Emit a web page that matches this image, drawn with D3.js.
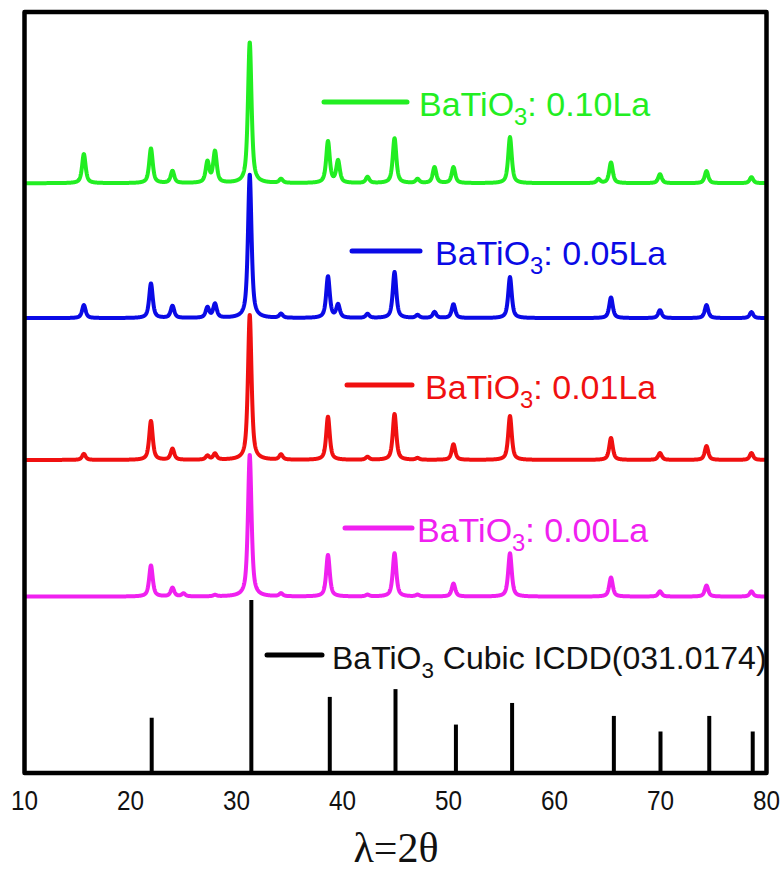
<!DOCTYPE html>
<html><head><meta charset="utf-8">
<script src="https://cdn.jsdelivr.net/npm/d3@7"></script>
<style>html,body{margin:0;padding:0;background:#fff;} svg{display:block;}</style>
</head><body>
<svg id="chart" width="782" height="873"></svg>
<script>
// ---------- data ----------
const xTicks = [10, 20, 30, 40, 50, 60, 70, 80];
const peakPositions = [15.6, 21.93, 23.96, 25.0, 27.26, 27.97, 31.25, 34.2, 38.63, 39.58, 42.36, 44.91, 47.08, 48.68, 50.47, 55.8, 64.15, 65.33, 69.95, 74.34, 78.58];
const heights000La = [0, 18, 5, 1.7, 0, 0.8, 82, 1.7, 24, 0, 1, 25, 1, 0, 7.5, 25, 0, 11, 3, 6.4, 3];
const heights001La = [3.5, 22.5, 6.4, 0, 2.3, 3.5, 84, 3, 25, 0, 1.7, 26.6, 1, 0, 9, 25.4, 0, 12.7, 4, 8, 4];
const heights005La = [7.5, 20, 7, 0, 6, 8, 83, 2.3, 24, 7.5, 2.3, 26.6, 1.7, 3.5, 8, 23.7, 0, 12, 4.6, 7.5, 3.5];
const heights010La = [16.8, 20, 7, 0, 12, 18, 81.5, 2.3, 24, 12.7, 3.5, 26, 2.3, 9.2, 9.2, 26.6, 2.3, 12, 5.2, 7, 3.5];
const seriesOffsets = [102, 181, 263, 341];      // vertical offsets (0.00, 0.01, 0.05, 0.10 La)
const seriesNames = ["0.00La", "0.01La", "0.05La", "0.10La"];
const seriesColors = ["#f020f0", "#f01010", "#0a0ae6", "#22ee22"];
const icddPositions = [22.0, 31.4, 38.8, 45.0, 50.7, 56.0, 65.6, 70.0, 74.6, 78.7];
const icddIntensities = [32, 100, 44, 48.5, 28, 40.5, 33, 24, 33, 24];

// ---------- layout ----------
const svg = d3.select("#chart");
const L = 24.5, R = 766.5, T = 12, B = 773;
const x = d3.scaleLinear().domain([10, 80]).range([L, R]);
const y = d3.scaleLinear().domain([0, 440]).range([B, T]);

const hwhm = 0.2, eta = 0.7;
function profile(heights, offset) {
  const pts = [];
  for (let t = 10; t <= 80.0001; t += 0.02) {
    let v = 0;
    for (let i = 0; i < peakPositions.length; i++) {
      const h = heights[i]; if (!h) continue;
      const d = (t - peakPositions[i]) / hwhm;
      v += h * (eta / (1 + d * d) + (1 - eta) * Math.exp(-Math.LN2 * d * d));
    }
    pts.push([t, v + offset]);
  }
  return pts;
}
const allHeights = [heights000La, heights001La, heights005La, heights010La];

svg.append("clipPath").attr("id", "plotclip").append("rect")
  .attr("x", L).attr("y", T).attr("width", R - L).attr("height", B - T);
const plot = svg.append("g").attr("clip-path", "url(#plotclip)");

// ICDD sticks
plot.selectAll("line.stick").data(icddPositions).enter().append("line")
  .attr("class", "stick")
  .attr("x1", d => x(d)).attr("x2", d => x(d))
  .attr("y1", y(0)).attr("y2", (d, i) => y(icddIntensities[i]))
  .attr("stroke", "#000").attr("stroke-width", 4);

const line = d3.line().x(d => x(d[0])).y(d => y(d[1]));
allHeights.forEach((h, k) => {
  plot.append("path").datum(profile(h, seriesOffsets[k]))
    .attr("d", line).attr("fill", "none")
    .attr("stroke", seriesColors[k]).attr("stroke-width", 4)
    .attr("stroke-linejoin", "round");
});

// frame
svg.append("rect").attr("x", L).attr("y", T).attr("width", R - L).attr("height", B - T)
  .attr("fill", "none").attr("stroke", "#000").attr("stroke-width", 4.5)
  .attr("stroke-linejoin", "round");

// x tick labels (slightly condensed)
svg.selectAll("text.tick").data(xTicks).enter().append("text")
  .attr("class", "tick")
  .attr("transform", d => `translate(${x(d)},810) scale(0.9,1)`)
  .attr("text-anchor", "middle")
  .attr("font-family", "Liberation Sans, Arial, sans-serif")
  .attr("font-size", 27).attr("fill", "#111")
  .text(d => d);

// x axis label
svg.append("text").attr("x", 396).attr("y", 862).attr("text-anchor", "middle")
  .attr("font-family", "Liberation Serif, Times New Roman, serif")
  .attr("font-size", 42).attr("fill", "#111").text("λ=2θ");

// legends
const legends = [
  {k: 3, x1: 324, x2: 407, y: 102, tx: 419},
  {k: 2, x1: 352, x2: 420, y: 251, tx: 435},
  {k: 1, x1: 347, x2: 412, y: 385, tx: 425},
  {k: 0, x1: 345, x2: 412, y: 528, tx: 417}
];
function legendText(g, tx, ty, color, rest, fs) {
  const t = g.append("text").attr("x", tx).attr("y", ty)
    .attr("font-family", "Liberation Sans, Arial, sans-serif")
    .attr("font-size", fs).attr("fill", color);
  t.append("tspan").text("BaTiO");
  t.append("tspan").attr("font-size", fs * 0.7).attr("dy", 9).text("3");
  t.append("tspan").attr("dy", -9).text(rest);
}
legends.forEach(l => {
  svg.append("line").attr("x1", l.x1).attr("x2", l.x2).attr("y1", l.y).attr("y2", l.y)
    .attr("stroke", seriesColors[l.k]).attr("stroke-width", 5).attr("stroke-linecap", "round");
  legendText(svg, l.tx, l.y + 14, seriesColors[l.k], ": " + seriesNames[l.k], 34);
});
svg.append("line").attr("x1", 267).attr("x2", 322).attr("y1", 655).attr("y2", 655)
  .attr("stroke", "#000").attr("stroke-width", 5).attr("stroke-linecap", "round");
legendText(svg, 332, 669, "#111", " Cubic ICDD(031.0174)", 32);
</script>
</body></html>
